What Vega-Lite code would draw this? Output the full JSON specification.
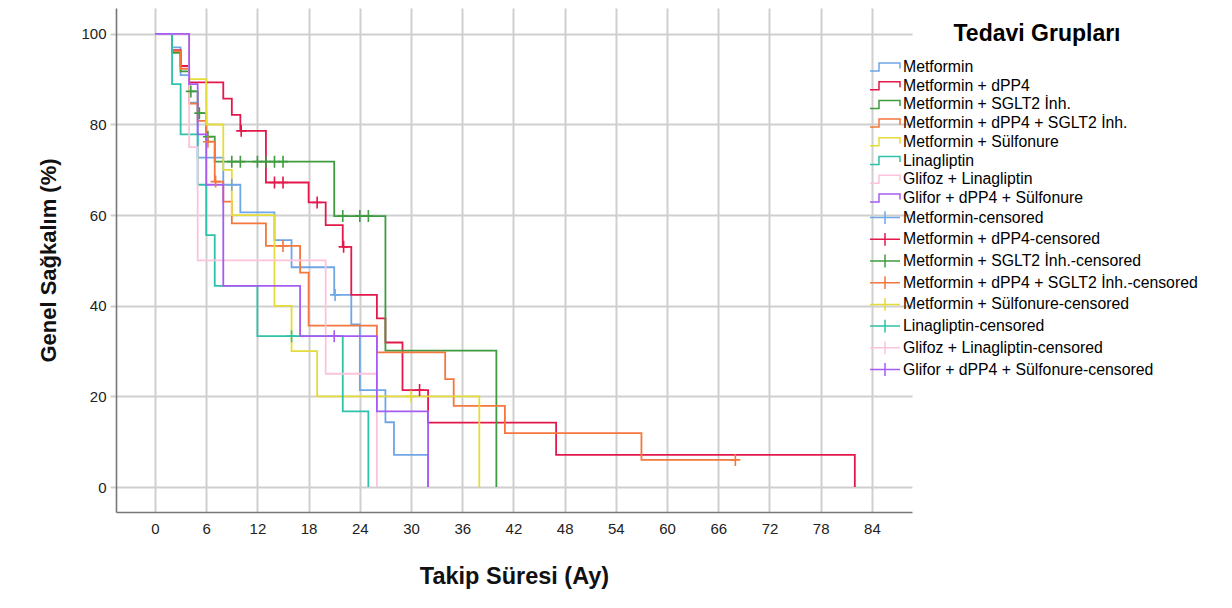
{
  "$schema": "https://vega.github.io/schema/vega-lite/v6.json",
  "width": 796,
  "height": 504,
  "autosize": "none",
  "padding": {"left": 116, "top": 8, "right": 320, "bottom": 96},
  "background": "white",
  "config": {
    "font": "Liberation Sans",
    "view": {"stroke": null},
    "axis": {
      "grid": true,
      "gridColor": "#cfcfcf",
      "gridWidth": 2,
      "domainColor": "#777777",
      "domainWidth": 1.6,
      "labelFontSize": 15,
      "labelColor": "#222222",
      "labelFlush": false,
      "titleFontSize": 22,
      "titleFontWeight": "bold",
      "titleColor": "#111111"
    }
  },
  "datasets": {
    "steps": [
      {"g": "Metformin", "t": 0, "s": 100},
      {"g": "Metformin", "t": 2, "s": 97.0},
      {"g": "Metformin", "t": 3, "s": 90.9},
      {"g": "Metformin", "t": 4, "s": 84.8},
      {"g": "Metformin", "t": 5, "s": 72.7},
      {"g": "Metformin", "t": 8, "s": 66.7},
      {"g": "Metformin", "t": 10, "s": 60.6},
      {"g": "Metformin", "t": 14, "s": 54.5},
      {"g": "Metformin", "t": 16, "s": 48.5},
      {"g": "Metformin", "t": 21, "s": 42.4},
      {"g": "Metformin", "t": 23, "s": 35.9},
      {"g": "Metformin", "t": 24, "s": 21.4},
      {"g": "Metformin", "t": 27, "s": 14.3},
      {"g": "Metformin", "t": 28, "s": 7.1},
      {"g": "Metformin", "t": 32, "s": 0},
      {"g": "Metformin + dPP4", "t": 0, "s": 100},
      {"g": "Metformin + dPP4", "t": 2, "s": 96.4},
      {"g": "Metformin + dPP4", "t": 3, "s": 92.9},
      {"g": "Metformin + dPP4", "t": 4, "s": 89.3},
      {"g": "Metformin + dPP4", "t": 8, "s": 85.7},
      {"g": "Metformin + dPP4", "t": 9, "s": 82.1},
      {"g": "Metformin + dPP4", "t": 10, "s": 78.6},
      {"g": "Metformin + dPP4", "t": 13, "s": 67.2},
      {"g": "Metformin + dPP4", "t": 18, "s": 62.8},
      {"g": "Metformin + dPP4", "t": 20, "s": 57.8},
      {"g": "Metformin + dPP4", "t": 22, "s": 53.0},
      {"g": "Metformin + dPP4", "t": 23, "s": 42.4},
      {"g": "Metformin + dPP4", "t": 26, "s": 37.2},
      {"g": "Metformin + dPP4", "t": 27, "s": 31.9},
      {"g": "Metformin + dPP4", "t": 29, "s": 21.4},
      {"g": "Metformin + dPP4", "t": 32, "s": 14.2},
      {"g": "Metformin + dPP4", "t": 47, "s": 7.1},
      {"g": "Metformin + dPP4", "t": 82, "s": 0},
      {"g": "Metformin + SGLT2 İnh.", "t": 0, "s": 100},
      {"g": "Metformin + SGLT2 İnh.", "t": 2, "s": 95.8},
      {"g": "Metformin + SGLT2 İnh.", "t": 3, "s": 91.7},
      {"g": "Metformin + SGLT2 İnh.", "t": 4, "s": 87.3},
      {"g": "Metformin + SGLT2 İnh.", "t": 5, "s": 82.5},
      {"g": "Metformin + SGLT2 İnh.", "t": 6, "s": 77.3},
      {"g": "Metformin + SGLT2 İnh.", "t": 7, "s": 71.8},
      {"g": "Metformin + SGLT2 İnh.", "t": 21, "s": 59.8},
      {"g": "Metformin + SGLT2 İnh.", "t": 27, "s": 30.1},
      {"g": "Metformin + SGLT2 İnh.", "t": 40, "s": 0},
      {"g": "Metformin + dPP4 + SGLT2 İnh.", "t": 0, "s": 100},
      {"g": "Metformin + dPP4 + SGLT2 İnh.", "t": 2, "s": 96.2},
      {"g": "Metformin + dPP4 + SGLT2 İnh.", "t": 3, "s": 92.3},
      {"g": "Metformin + dPP4 + SGLT2 İnh.", "t": 4, "s": 84.6},
      {"g": "Metformin + dPP4 + SGLT2 İnh.", "t": 5, "s": 80.8},
      {"g": "Metformin + dPP4 + SGLT2 İnh.", "t": 6, "s": 76.2},
      {"g": "Metformin + dPP4 + SGLT2 İnh.", "t": 7, "s": 67.4},
      {"g": "Metformin + dPP4 + SGLT2 İnh.", "t": 8, "s": 63.0},
      {"g": "Metformin + dPP4 + SGLT2 İnh.", "t": 9, "s": 58.2},
      {"g": "Metformin + dPP4 + SGLT2 İnh.", "t": 13, "s": 53.2},
      {"g": "Metformin + dPP4 + SGLT2 İnh.", "t": 17, "s": 47.3},
      {"g": "Metformin + dPP4 + SGLT2 İnh.", "t": 18, "s": 35.6},
      {"g": "Metformin + dPP4 + SGLT2 İnh.", "t": 26, "s": 29.7},
      {"g": "Metformin + dPP4 + SGLT2 İnh.", "t": 34, "s": 23.8},
      {"g": "Metformin + dPP4 + SGLT2 İnh.", "t": 35, "s": 17.9},
      {"g": "Metformin + dPP4 + SGLT2 İnh.", "t": 41, "s": 11.9},
      {"g": "Metformin + dPP4 + SGLT2 İnh.", "t": 57, "s": 6.0},
      {"g": "Metformin + dPP4 + SGLT2 İnh.", "t": 68, "s": 6.0},
      {"g": "Metformin + Sülfonure", "t": 0, "s": 100},
      {"g": "Metformin + Sülfonure", "t": 4, "s": 90},
      {"g": "Metformin + Sülfonure", "t": 6, "s": 80},
      {"g": "Metformin + Sülfonure", "t": 8, "s": 70},
      {"g": "Metformin + Sülfonure", "t": 9, "s": 60},
      {"g": "Metformin + Sülfonure", "t": 14, "s": 40},
      {"g": "Metformin + Sülfonure", "t": 16, "s": 30},
      {"g": "Metformin + Sülfonure", "t": 19, "s": 20},
      {"g": "Metformin + Sülfonure", "t": 38, "s": 0},
      {"g": "Linagliptin", "t": 0, "s": 100},
      {"g": "Linagliptin", "t": 2, "s": 88.9},
      {"g": "Linagliptin", "t": 3, "s": 77.8},
      {"g": "Linagliptin", "t": 5, "s": 66.7},
      {"g": "Linagliptin", "t": 6, "s": 55.6},
      {"g": "Linagliptin", "t": 7, "s": 44.4},
      {"g": "Linagliptin", "t": 12, "s": 33.3},
      {"g": "Linagliptin", "t": 22, "s": 16.7},
      {"g": "Linagliptin", "t": 25, "s": 0},
      {"g": "Glifoz + Linagliptin", "t": 0, "s": 100},
      {"g": "Glifoz + Linagliptin", "t": 4, "s": 75},
      {"g": "Glifoz + Linagliptin", "t": 5, "s": 50},
      {"g": "Glifoz + Linagliptin", "t": 20, "s": 25},
      {"g": "Glifoz + Linagliptin", "t": 26, "s": 0},
      {"g": "Glifor + dPP4 + Sülfonure", "t": 0, "s": 100},
      {"g": "Glifor + dPP4 + Sülfonure", "t": 4, "s": 88.9},
      {"g": "Glifor + dPP4 + Sülfonure", "t": 5, "s": 77.8},
      {"g": "Glifor + dPP4 + Sülfonure", "t": 6, "s": 66.7},
      {"g": "Glifor + dPP4 + Sülfonure", "t": 8, "s": 44.4},
      {"g": "Glifor + dPP4 + Sülfonure", "t": 17, "s": 33.3},
      {"g": "Glifor + dPP4 + Sülfonure", "t": 26, "s": 16.7},
      {"g": "Glifor + dPP4 + Sülfonure", "t": 32, "s": 0}
    ],
    "cens": [
      {"g": "Metformin-censored", "t": 9, "s": 66.7},
      {"g": "Metformin-censored", "t": 21.1, "s": 42.4},
      {"g": "Metformin + dPP4-censored", "t": 10.1, "s": 78.6},
      {"g": "Metformin + dPP4-censored", "t": 14, "s": 67.2},
      {"g": "Metformin + dPP4-censored", "t": 15, "s": 67.2},
      {"g": "Metformin + dPP4-censored", "t": 19, "s": 62.8},
      {"g": "Metformin + dPP4-censored", "t": 22.1, "s": 53.0},
      {"g": "Metformin + dPP4-censored", "t": 31, "s": 21.4},
      {"g": "Metformin + SGLT2 İnh.-censored", "t": 4.2, "s": 87.3},
      {"g": "Metformin + SGLT2 İnh.-censored", "t": 5.2, "s": 82.5},
      {"g": "Metformin + SGLT2 İnh.-censored", "t": 6.2, "s": 77.3},
      {"g": "Metformin + SGLT2 İnh.-censored", "t": 9, "s": 71.8},
      {"g": "Metformin + SGLT2 İnh.-censored", "t": 10, "s": 71.8},
      {"g": "Metformin + SGLT2 İnh.-censored", "t": 12, "s": 71.8},
      {"g": "Metformin + SGLT2 İnh.-censored", "t": 13, "s": 71.8},
      {"g": "Metformin + SGLT2 İnh.-censored", "t": 14, "s": 71.8},
      {"g": "Metformin + SGLT2 İnh.-censored", "t": 15, "s": 71.8},
      {"g": "Metformin + SGLT2 İnh.-censored", "t": 22, "s": 59.8},
      {"g": "Metformin + SGLT2 İnh.-censored", "t": 24, "s": 59.8},
      {"g": "Metformin + SGLT2 İnh.-censored", "t": 25, "s": 59.8},
      {"g": "Metformin + dPP4 + SGLT2 İnh.-censored", "t": 6.2, "s": 76.2},
      {"g": "Metformin + dPP4 + SGLT2 İnh.-censored", "t": 7.1, "s": 67.4},
      {"g": "Metformin + dPP4 + SGLT2 İnh.-censored", "t": 15, "s": 53.2},
      {"g": "Metformin + dPP4 + SGLT2 İnh.-censored", "t": 68, "s": 6.0},
      {"g": "Metformin + Sülfonure-censored", "t": 30, "s": 20},
      {"g": "Linagliptin-censored", "t": 16, "s": 33.3},
      {"g": "Glifor + dPP4 + Sülfonure-censored", "t": 21, "s": 33.3}
    ]
  },
  "encoding": {
    "x": {
      "field": "t",
      "type": "quantitative",
      "scale": {"domain": [-4.57, 88.7], "nice": false, "zero": false},
      "axis": {
        "values": [0, 6, 12, 18, 24, 30, 36, 42, 48, 54, 60, 66, 72, 78, 84],
        "title": "Takip Süresi (Ay)",
        "ticks": false,
        "labelPadding": 9,
        "titleFontSize": 23.5,
        "titlePadding": 28
      }
    },
    "y": {
      "field": "s",
      "type": "quantitative",
      "scale": {"domain": [-5.5, 105.7], "nice": false, "zero": false},
      "axis": {
        "values": [0, 20, 40, 60, 80, 100],
        "title": "Genel Sağkalım (%)",
        "ticks": true,
        "tickColor": "#cfcfcf",
        "tickWidth": 2,
        "tickSize": 6,
        "labelPadding": 4,
        "titlePadding": 20
      }
    },
    "color": {
      "field": "g",
      "type": "nominal",
      "scale": {
        "domain": [
          "Metformin", "Metformin + dPP4", "Metformin + SGLT2 İnh.", "Metformin + dPP4 + SGLT2 İnh.",
          "Metformin + Sülfonure", "Linagliptin", "Glifoz + Linagliptin", "Glifor + dPP4 + Sülfonure",
          "Metformin-censored", "Metformin + dPP4-censored", "Metformin + SGLT2 İnh.-censored",
          "Metformin + dPP4 + SGLT2 İnh.-censored", "Metformin + Sülfonure-censored",
          "Linagliptin-censored", "Glifoz + Linagliptin-censored", "Glifor + dPP4 + Sülfonure-censored"
        ],
        "range": [
          "#6fa6e6", "#e3184b", "#3f9b3f", "#f4773d", "#e4dc3a", "#2ec2a8", "#fdc3dc", "#a65cf2",
          "#6fa6e6", "#e3184b", "#3f9b3f", "#f4773d", "#e4dc3a", "#2ec2a8", "#fdc3dc", "#a65cf2"
        ]
      },
      "legend": {
        "orient": "none",
        "legendX": 760,
        "legendY": 15,
        "title": "Tedavi Grupları",
        "titleFontSize": 23,
        "titleFontWeight": "bold",
        "titleColor": "#000000",
        "titleAnchor": "middle",
        "titlePadding": 12,
        "labelFontSize": 15.8,
        "labelColor": "#000000",
        "labelOffset": 9,
        "labelLimit": 400,
        "symbolSize": 256,
        "symbolStrokeWidth": 1.5,
        "rowPadding": 1.7,
        "padding": 0,
        "encode": {
          "symbols": {
            "update": {
              "shape": {"signal": "indexof(datum.value, 'censored') >= 0 ? 'M-1.875,0H1.875M0,-0.8V0.8' : 'M-1.875,0.5H-0.75V-0.5H1.875V0.2'"},
              "fill": {"value": "transparent"},
              "strokeWidth": {"value": 1.5}
            }
          }
        }
      }
    }
  },
  "layer": [
    {
      "data": {"name": "steps"},
      "mark": {"type": "line", "interpolate": "step-after", "strokeWidth": 1.8}
    },
    {
      "data": {"name": "cens"},
      "mark": {"type": "point", "shape": "M-1,0H1M0,-1.2V1.2", "filled": false, "size": 100, "strokeWidth": 1.6, "opacity": 1}
    }
  ]
}
